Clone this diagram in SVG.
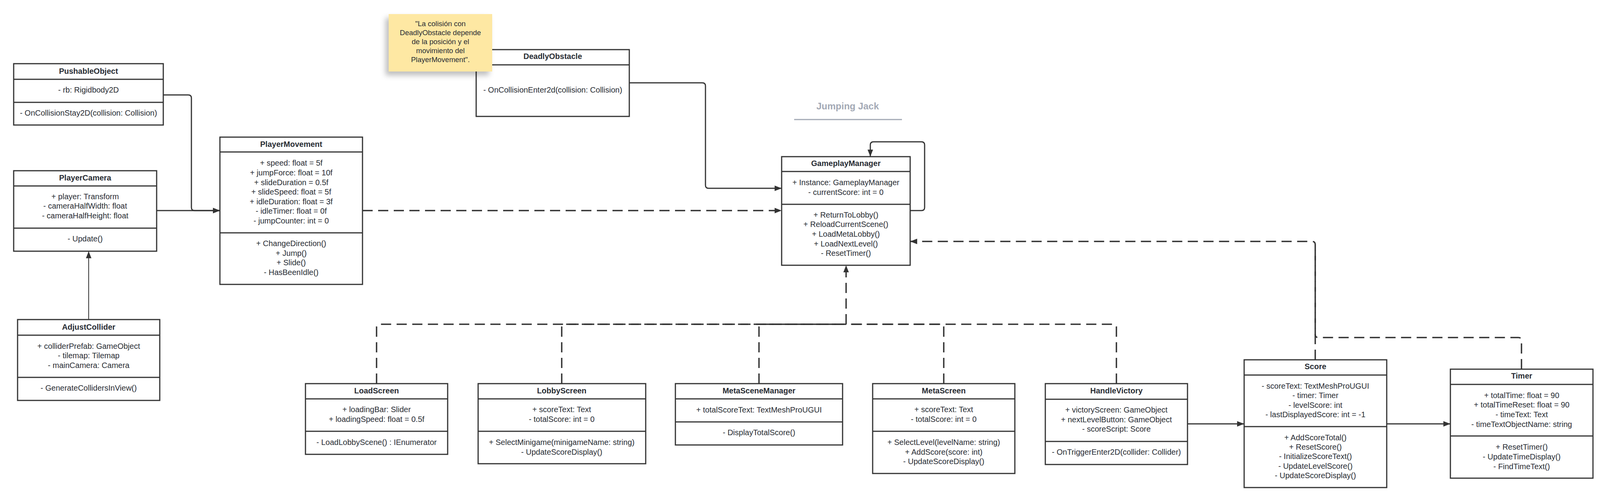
<svg xmlns="http://www.w3.org/2000/svg" width="4114" height="1285" viewBox="0 0 4114 1285">
<style>
.bg{fill:#ffffff}
.box{fill:#ffffff;stroke:#333333;stroke-width:3}
.dv{stroke:#333333;stroke-width:3}
.t{font-family:"Liberation Sans",Arial,sans-serif;font-size:20px;fill:#282c33;text-anchor:middle}
.b{font-weight:bold}
.c{fill:none;stroke:#333333;stroke-width:3;stroke-linejoin:round}
.d{stroke-dasharray:26 14;stroke-width:3.5}
.thin{stroke-width:2}
.note{fill:#fee8a3}
.nt{font-family:"Liberation Sans",Arial,sans-serif;font-size:18.5px;fill:#282c33;text-anchor:middle}
.title{font-family:"Liberation Sans",Arial,sans-serif;font-size:24px;font-weight:bold;fill:#a3a9b5;text-anchor:middle}
</style>
<defs>
<marker id="arr" markerUnits="userSpaceOnUse" markerWidth="18" markerHeight="14" refX="18" refY="7" orient="auto">
<path d="M0,0 L18,7 L0,14 Z" fill="#333333"/>
</marker>
<filter id="sh" x="-20%" y="-20%" width="140%" height="150%">
<feDropShadow dx="-8" dy="10" stdDeviation="7" flood-color="#000000" flood-opacity="0.25"/>
</filter>
</defs>
<rect class="bg" x="0" y="0" width="4114" height="1285"/>

<g id="title-jumping-jack">
<text class="title" x="2170" y="280">Jumping Jack</text>
<line x1="2033" y1="306" x2="2309" y2="306" stroke="#a3a9b5" stroke-width="3"/>
</g>

<g id="connectors">
<path class="c" d="M418,243 H482 Q490,243 490,251 V531 Q490,539 498,539 H563" marker-end="url(#arr)"/>
<path class="c" d="M401,539 H563" marker-end="url(#arr)"/>
<path class="c thin" d="M227,818 V643" marker-end="url(#arr)"/>
<path class="c" d="M1611,212 H1798 Q1806,212 1806,220 V474 Q1806,482 1814,482 H2001" marker-end="url(#arr)"/>
<path class="c" d="M2330,539 H2359 Q2367,539 2367,531 V371 Q2367,363 2359,363 H2236 Q2228,363 2228,371 V401" marker-end="url(#arr)"/>
<path class="c d" d="M928,539 H2001" marker-end="url(#arr)"/>
<path class="c d" d="M964,982 V838 Q964,830 972,830 H2166"/>
<path class="c d" d="M1438,982 V838 Q1438,830 1446,830 H2166"/>
<path class="c d" d="M1943,982 V838 Q1943,830 1951,830 H2166"/>
<path class="c d" d="M2416,982 V838 Q2416,830 2408,830 H2166"/>
<path class="c d" d="M2858,982 V838 Q2858,830 2850,830 H2166"/>
<path class="c d" d="M2166,830 V679" marker-end="url(#arr)"/>
<path class="c" d="M3040,1085 H3185" marker-end="url(#arr)"/>
<path class="c" d="M3550,1085 H3713" marker-end="url(#arr)"/>
<path class="c d" d="M3367,921 V626 Q3367,618 3359,618 H2330" marker-end="url(#arr)"/>
<path class="c d" d="M3895,945 V872 Q3895,864 3887,864 H3375 Q3367,864 3367,856 V626"/>
</g>

<g id="PushableObject">
<rect class="box" x="35" y="163" width="383" height="157"/>
<line class="dv" x1="35" y1="203" x2="418" y2="203"/>
<line class="dv" x1="35" y1="262" x2="418" y2="262"/>
<text class="t b" x="226.5" y="189">PushableObject</text>
<text class="t" x="226.5" y="237">- rb: Rigidbody2D</text>
<text class="t" x="226.5" y="296">- OnCollisionStay2D(collision: Collision)</text>
</g>

<g id="PlayerCamera">
<rect class="box" x="35" y="437" width="366" height="206"/>
<line class="dv" x1="35" y1="476" x2="401" y2="476"/>
<line class="dv" x1="35" y1="584" x2="401" y2="584"/>
<text class="t b" x="218" y="462">PlayerCamera</text>
<text class="t" x="218" y="510">+ player: Transform</text>
<text class="t" x="218" y="534">- cameraHalfWidth: float</text>
<text class="t" x="218" y="559">- cameraHalfHeight: float</text>
<text class="t" x="218" y="618">- Update()</text>
</g>

<g id="PlayerMovement">
<rect class="box" x="563" y="351" width="365" height="377"/>
<line class="dv" x1="563" y1="389" x2="928" y2="389"/>
<line class="dv" x1="563" y1="596" x2="928" y2="596"/>
<text class="t b" x="745.5" y="376">PlayerMovement</text>
<text class="t" x="745.5" y="424">+ speed: float = 5f</text>
<text class="t" x="745.5" y="449">+ jumpForce: float = 10f</text>
<text class="t" x="745.5" y="474">+ slideDuration = 0.5f</text>
<text class="t" x="745.5" y="498">+ slideSpeed: float = 5f</text>
<text class="t" x="745.5" y="523">+ idleDuration: float = 3f</text>
<text class="t" x="745.5" y="547">- idleTimer: float = 0f</text>
<text class="t" x="745.5" y="572">- jumpCounter: int = 0</text>
<text class="t" x="745.5" y="630">+ ChangeDirection()</text>
<text class="t" x="745.5" y="655">+ Jump()</text>
<text class="t" x="745.5" y="679">+ Slide()</text>
<text class="t" x="745.5" y="704">- HasBeenIdle()</text>
</g>

<g id="AdjustCollider">
<rect class="box" x="45" y="818" width="364" height="207"/>
<line class="dv" x1="45" y1="858" x2="409" y2="858"/>
<line class="dv" x1="45" y1="966" x2="409" y2="966"/>
<text class="t b" x="227" y="844">AdjustCollider</text>
<text class="t" x="227" y="893">+ colliderPrefab: GameObject</text>
<text class="t" x="227" y="917">- tilemap: Tilemap</text>
<text class="t" x="227" y="942">- mainCamera: Camera</text>
<text class="t" x="227" y="1000">- GenerateCollidersInView()</text>
</g>

<g id="DeadlyObstacle">
<rect class="box" x="1219" y="127" width="392" height="171"/>
<line class="dv" x1="1219" y1="166" x2="1611" y2="166"/>
<text class="t b" x="1415" y="151">DeadlyObstacle</text>
<text class="t" x="1415" y="237">- OnCollisionEnter2d(collision: Collision)</text>
</g>

<g id="note">
<rect class="note" x="995" y="36" width="265" height="147" filter="url(#sh)"/>
<text class="nt" x="1127.5" y="67">"La colisión con</text>
<text class="nt" x="1127.5" y="90">DeadlyObstacle depende</text>
<text class="nt" x="1127.5" y="113">de la posición y el</text>
<text class="nt" x="1127.5" y="136">movimiento del</text>
<text class="nt" x="1127.5" y="159">PlayerMovement".</text>
</g>

<g id="GameplayManager">
<rect class="box" x="2001" y="401" width="329" height="278"/>
<line class="dv" x1="2001" y1="439" x2="2330" y2="439"/>
<line class="dv" x1="2001" y1="523" x2="2330" y2="523"/>
<text class="t b" x="2165.5" y="425">GameplayManager</text>
<text class="t" x="2165.5" y="474">+ Instance: GameplayManager</text>
<text class="t" x="2165.5" y="499">- currentScore: int = 0</text>
<text class="t" x="2165.5" y="557">+ ReturnToLobby()</text>
<text class="t" x="2165.5" y="581">+ ReloadCurrentScene()</text>
<text class="t" x="2165.5" y="606">+ LoadMetaLobby()</text>
<text class="t" x="2165.5" y="631">+ LoadNextLevel()</text>
<text class="t" x="2165.5" y="655">- ResetTimer()</text>
</g>

<g id="LoadScreen">
<rect class="box" x="782" y="982" width="364" height="181"/>
<line class="dv" x1="782" y1="1021" x2="1146" y2="1021"/>
<line class="dv" x1="782" y1="1104" x2="1146" y2="1104"/>
<text class="t b" x="964" y="1007">LoadScreen</text>
<text class="t" x="964" y="1055">+ loadingBar: Slider</text>
<text class="t" x="964" y="1080">+ loadingSpeed: float = 0.5f</text>
<text class="t" x="964" y="1139">- LoadLobbyScene() : IEnumerator</text>
</g>

<g id="LobbyScreen">
<rect class="box" x="1224" y="982" width="429" height="205"/>
<line class="dv" x1="1224" y1="1021" x2="1653" y2="1021"/>
<line class="dv" x1="1224" y1="1104" x2="1653" y2="1104"/>
<text class="t b" x="1438" y="1007">LobbyScreen</text>
<text class="t" x="1438" y="1055">+ scoreText: Text</text>
<text class="t" x="1438" y="1080">- totalScore: int = 0</text>
<text class="t" x="1438" y="1139">+ SelectMinigame(minigameName: string)</text>
<text class="t" x="1438" y="1164">- UpdateScoreDisplay()</text>
</g>

<g id="MetaSceneManager">
<rect class="box" x="1729" y="982" width="428" height="157"/>
<line class="dv" x1="1729" y1="1021" x2="2157" y2="1021"/>
<line class="dv" x1="1729" y1="1080" x2="2157" y2="1080"/>
<text class="t b" x="1943" y="1007">MetaSceneManager</text>
<text class="t" x="1943" y="1056">+ totalScoreText: TextMeshProUGUI</text>
<text class="t" x="1943" y="1114">- DisplayTotalScore()</text>
</g>

<g id="MetaScreen">
<rect class="box" x="2234" y="982" width="364" height="230"/>
<line class="dv" x1="2234" y1="1021" x2="2598" y2="1021"/>
<line class="dv" x1="2234" y1="1104" x2="2598" y2="1104"/>
<text class="t b" x="2416" y="1007">MetaScreen</text>
<text class="t" x="2416" y="1055">+ scoreText: Text</text>
<text class="t" x="2416" y="1080">- totalScore: int = 0</text>
<text class="t" x="2416" y="1139">+ SelectLevel(levelName: string)</text>
<text class="t" x="2416" y="1164">+ AddScore(score: int)</text>
<text class="t" x="2416" y="1188">- UpdateScoreDisplay()</text>
</g>

<g id="HandleVictory">
<rect class="box" x="2676" y="982" width="364" height="207"/>
<line class="dv" x1="2676" y1="1022" x2="3040" y2="1022"/>
<line class="dv" x1="2676" y1="1130" x2="3040" y2="1130"/>
<text class="t b" x="2858" y="1007">HandleVictory</text>
<text class="t" x="2858" y="1056">+ victoryScreen: GameObject</text>
<text class="t" x="2858" y="1081">+ nextLevelButton: GameObject</text>
<text class="t" x="2858" y="1105">- scoreScript: Score</text>
<text class="t" x="2858" y="1164">- OnTriggerEnter2D(collider: Collider)</text>
</g>

<g id="Score">
<rect class="box" x="3185" y="921" width="365" height="327"/>
<line class="dv" x1="3185" y1="960" x2="3550" y2="960"/>
<line class="dv" x1="3185" y1="1092" x2="3550" y2="1092"/>
<text class="t b" x="3367.5" y="945">Score</text>
<text class="t" x="3367.5" y="995">- scoreText: TextMeshProUGUI</text>
<text class="t" x="3367.5" y="1019">- timer: Timer</text>
<text class="t" x="3367.5" y="1044">- levelScore: int</text>
<text class="t" x="3367.5" y="1068">- lastDisplayedScore: int = -1</text>
<text class="t" x="3367.5" y="1127">+ AddScoreTotal()</text>
<text class="t" x="3367.5" y="1151">+ ResetScore()</text>
<text class="t" x="3367.5" y="1175">- InitializeScoreText()</text>
<text class="t" x="3367.5" y="1200">- UpdateLevelScore()</text>
<text class="t" x="3367.5" y="1224">- UpdateScoreDisplay()</text>
</g>

<g id="Timer">
<rect class="box" x="3713" y="945" width="365" height="279"/>
<line class="dv" x1="3713" y1="984" x2="4078" y2="984"/>
<line class="dv" x1="3713" y1="1116" x2="4078" y2="1116"/>
<text class="t b" x="3895.5" y="969">Timer</text>
<text class="t" x="3895.5" y="1019">+ totalTime: float = 90</text>
<text class="t" x="3895.5" y="1043">+ totalTimeReset: float = 90</text>
<text class="t" x="3895.5" y="1068">- timeText: Text</text>
<text class="t" x="3895.5" y="1093">- timeTextObjectName: string</text>
<text class="t" x="3895.5" y="1151">+ ResetTimer()</text>
<text class="t" x="3895.5" y="1176">- UpdateTimeDisplay()</text>
<text class="t" x="3895.5" y="1201">- FindTimeText()</text>
</g>
</svg>
